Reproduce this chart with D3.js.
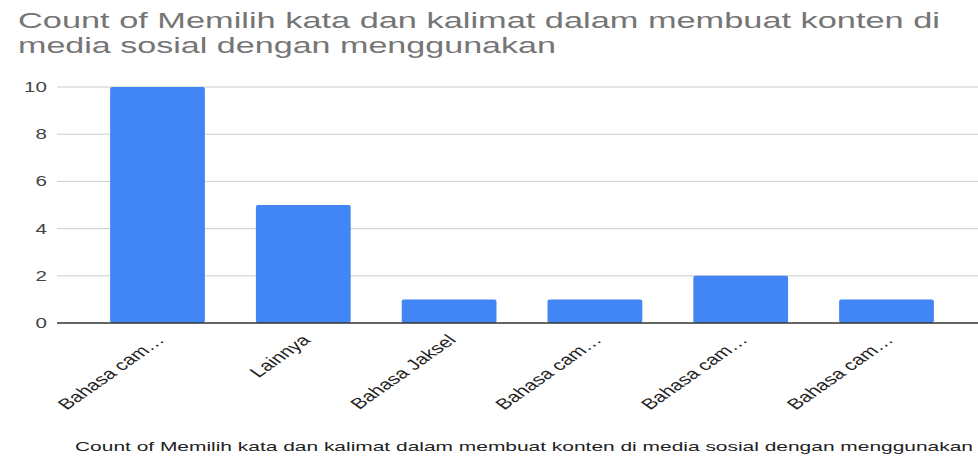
<!DOCTYPE html>
<html>
<head>
<meta charset="utf-8">
<script src="https://cdn.jsdelivr.net/npm/d3@7"></script>
<style>
    body { margin: 0; background: #fff; }
    svg { display: block; font-family: Arial, "Liberation Sans", sans-serif; }
</style>
</head>
<body>
<script>
// bar chart - counts per answer (labels are cut off like in the sheet)
const categories = ["Bahasa cam…", "Lainnya", "Bahasa Jaksel", "Bahasa cam… ", "Bahasa cam…  ", "Bahasa cam…   "]
const counts = [10, 5, 1, 1, 2, 1]
const yTicks = [0, 2, 4, 6, 8, 10]
const titleLines = ["Count of Memilih kata dan kalimat dalam membuat konten di", "media sosial dengan menggunakan"]
const legendText = "Count of Memilih kata dan kalimat dalam membuat konten di media sosial dengan menggunakan"

const width = 978,
    height = 457
const stretch = 1.42 // the picture is wider than it is tall, text too

const svg = d3.select("body").append("svg")
    .attr("width", width)
    .attr("height", height)

const x = d3.scaleBand()
    .domain(categories)
    .range([62, 982])
    .paddingInner(0.35)
    .paddingOuter(0.33)

const y = d3.scaleLinear()
    .domain([0, 10])
    .range([323, 87])

// title
svg.append("text")
    .attr("x", 18).attr("y", 28)
    .attr("font-size", 22)
    .attr("fill", "#757575")
    .attr("textLength", 922)
    .attr("lengthAdjust", "spacingAndGlyphs")
    .text(titleLines[0])
svg.append("text")
    .attr("x", 18).attr("y", 53)
    .attr("font-size", 22)
    .attr("fill", "#757575")
    .attr("textLength", 538)
    .attr("lengthAdjust", "spacingAndGlyphs")
    .text(titleLines[1])

// gridlines
svg.append("g")
    .selectAll("line")
    .data(yTicks.filter(d => d > 0))
    .join("line")
    .attr("x1", 57).attr("x2", width)
    .attr("y1", d => y(d)).attr("y2", d => y(d))
    .attr("stroke", "#cccccc")

// y labels
svg.append("g")
    .selectAll("text")
    .data(yTicks)
    .join("text")
    .attr("transform", d => `translate(47,${y(d) + 5}) scale(${stretch},1)`)
    .attr("text-anchor", "end")
    .attr("font-size", 14.5)
    .attr("fill", "#444")
    .text(d => d)

// bars
svg.append("g")
    .selectAll("rect")
    .data(counts)
    .join("rect")
    .attr("x", (d, i) => x(categories[i]))
    .attr("y", d => y(d))
    .attr("width", x.bandwidth())
    .attr("height", d => y(0) - y(d))
    .attr("rx", 2)
    .attr("fill", "#4285f4")

// baseline
svg.append("line")
    .attr("x1", 57).attr("x2", width)
    .attr("y1", y(0)).attr("y2", y(0))
    .attr("stroke", "#333")
    .attr("stroke-width", 1.5)

// x labels, slanted
svg.append("g")
    .selectAll("text")
    .data(categories)
    .join("text")
    .attr("transform", d => `translate(${x(d) + x.bandwidth() / 2 + 8},${y(0) + 18}) scale(${stretch},1) rotate(-45)`)
    .attr("text-anchor", "end")
    .attr("font-size", 15)
    .attr("fill", "#222")
    .text(d => d.trim())

// legend below
svg.append("text")
    .attr("x", 75).attr("y", 451)
    .attr("font-size", 13)
    .attr("fill", "#222")
    .attr("textLength", 898)
    .attr("lengthAdjust", "spacingAndGlyphs")
    .text(legendText)
</script>
</body>
</html>
